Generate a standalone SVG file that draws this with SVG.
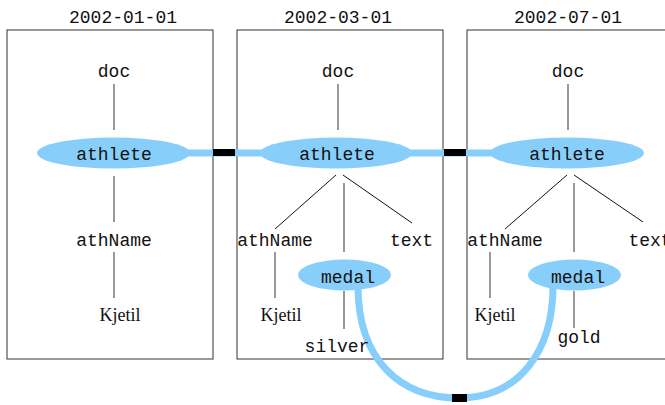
<svg xmlns="http://www.w3.org/2000/svg" width="665" height="405" viewBox="0 0 665 405">
<style>
.box{fill:none;stroke:#333;stroke-width:1}
.t{font-family:"Liberation Mono",monospace;font-size:18px;fill:#111;text-anchor:middle}
.s{font-family:"Liberation Serif",serif;font-size:18px;fill:#111;text-anchor:middle}
.ell{fill:#87cefa}
.v{stroke:#555;stroke-width:1.2}
.d{stroke:#111;stroke-width:1}
.link{fill:none;stroke:#87cefa;stroke-width:7}
.blk{fill:#000}
</style>
<rect width="665" height="405" fill="#fff"/>
<g id="snapshot1">
<text class="t" x="123" y="23">2002-01-01</text>
<rect class="box" x="7" y="30" width="206" height="329"/>
</g>
<g id="snapshot2">
<text class="t" x="338" y="23">2002-03-01</text>
<rect class="box" x="237" y="30" width="206" height="329"/>
</g>
<g id="snapshot3">
<text class="t" x="568" y="23">2002-07-01</text>
<rect class="box" x="467" y="30" width="240" height="329"/>
</g>
<g id="connectors">
<line class="v" x1="114" y1="84" x2="114" y2="130"/>
<line class="v" x1="114" y1="176" x2="114" y2="222"/>
<line class="v" x1="114" y1="252" x2="114" y2="298"/>
<line class="v" x1="338" y1="84" x2="338" y2="130"/>
<line class="d" x1="336" y1="175" x2="275" y2="229"/>
<line class="v" x1="344" y1="183" x2="344" y2="252"/>
<line class="d" x1="343" y1="175" x2="412" y2="223"/>
<line class="v" x1="275" y1="252" x2="275" y2="298"/>
<line class="v" x1="344" y1="291" x2="344" y2="329"/>
<line class="v" x1="568" y1="84" x2="568" y2="130"/>
<line class="d" x1="567" y1="175" x2="505" y2="229"/>
<line class="v" x1="574" y1="183" x2="574" y2="252"/>
<line class="d" x1="574" y1="175" x2="643" y2="222"/>
<line class="v" x1="490" y1="252" x2="490" y2="298"/>
<line class="v" x1="574" y1="291" x2="574" y2="328"/>
<line class="link" x1="185" y1="153" x2="266" y2="153"/>
<line class="link" x1="408" y1="153" x2="495" y2="153"/>
<path class="link" d="M358 286 C358 360 400 398 459 398 C520 398 553 350 553 286"/>
<rect class="blk" x="213" y="149" width="22" height="7"/>
<rect class="blk" x="444" y="149" width="22" height="7"/>
<rect class="blk" x="452" y="394" width="15" height="8"/>
</g>
<g id="doc1"><text class="t" x="114" y="77">doc</text></g>
<g id="athlete1"><ellipse class="ell" cx="113.5" cy="153" rx="76.5" ry="15.5"/><text class="t" x="114" y="160">athlete</text></g>
<g id="athName1"><text class="t" x="114" y="246">athName</text></g>
<g id="kjetil1"><text class="s" x="120" y="321">Kjetil</text></g>
<g id="doc2"><text class="t" x="338" y="77">doc</text></g>
<g id="athlete2"><ellipse class="ell" cx="336" cy="153" rx="76" ry="15.5"/><text class="t" x="337" y="160">athlete</text></g>
<g id="athName2"><text class="t" x="275" y="246">athName</text></g>
<g id="text2"><text class="t" x="411.5" y="246">text</text></g>
<g id="medal2"><ellipse class="ell" cx="344.5" cy="275" rx="46.5" ry="15.5"/><text class="t" x="348" y="283">medal</text></g>
<g id="kjetil2"><text class="s" x="281" y="321">Kjetil</text></g>
<g id="silver2"><text class="t" x="337" y="352">silver</text></g>
<g id="doc3"><text class="t" x="568" y="77">doc</text></g>
<g id="athlete3"><ellipse class="ell" cx="567" cy="153" rx="77" ry="15.5"/><text class="t" x="567" y="160">athlete</text></g>
<g id="athName3"><text class="t" x="505" y="246">athName</text></g>
<g id="text3"><text class="t" x="650" y="246">text</text></g>
<g id="medal3"><ellipse class="ell" cx="574.5" cy="275" rx="46.5" ry="15.5"/><text class="t" x="578" y="283">medal</text></g>
<g id="kjetil3"><text class="s" x="495" y="321">Kjetil</text></g>
<g id="gold3"><text class="t" x="579" y="343">gold</text></g>
</svg>
